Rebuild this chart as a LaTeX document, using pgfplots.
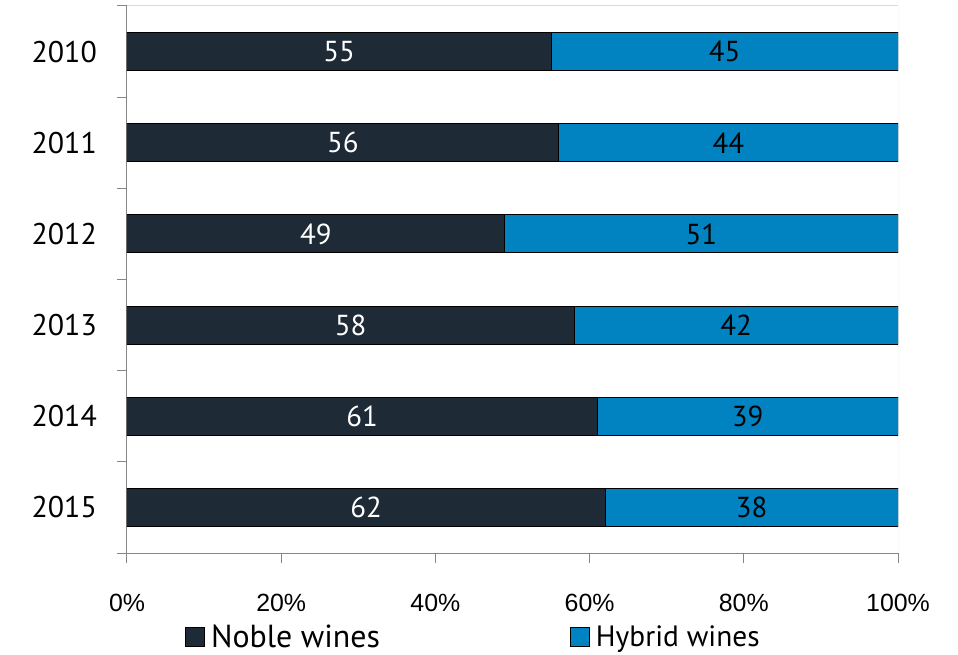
\documentclass[border=0pt]{standalone}
\usepackage{pgfplots}
\pgfplotsset{compat=1.18}
\usepackage{fontspec}
\setmainfont{PT Sans}
\newfontfamily\arialfont{Liberation Sans}
\definecolor{noble}{HTML}{1F2A37}
\definecolor{hybrid}{HTML}{0083C0}
\definecolor{axgray}{HTML}{868686}
\definecolor{framegray}{HTML}{D9D9D9}
\pgfplotsset{sqlegend/.style={legend image code/.code={\draw[##1,draw=black,line width=1bp] (0bp,-9.5bp) rectangle (19bp,9.5bp);}}}
\begin{document}
\begin{tikzpicture}
\path[use as bounding box] (-127bp,-102bp) rectangle (831bp,553bp);
\begin{axis}[
  at={(0,0)}, anchor=south west,
  scale only axis, width=771bp, height=547bp,
  xbar stacked, bar width=38bp,
  xmin=0, xmax=100,
  ymin=-0.5, ymax=5.5,
  ytick={0,...,5}, yticklabels={2015,2014,2013,2012,2011,2010},
  minor ytick={-0.5,0.5,...,5.5},
  major tick length=10bp, minor tick length=10bp,
  tick align=outside,
  ytick style={draw=none},
  minor y tick style={draw=axgray, line width=1bp},
  xtick={0,20,...,100},
  xticklabels={0\%,20\%,40\%,60\%,80\%,100\%},
  xtick style={draw=axgray, line width=1bp},
  axis x line*=bottom, axis y line*=left,
  axis line style={axgray, line width=1bp},
  yticklabel style={font=\fontsize{30}{30}\selectfont, inner sep=0pt, xshift=-20bp},
  xticklabel style={font=\arialfont\fontsize{25}{25}\selectfont, inner sep=0pt, yshift=-31bp},
  legend style={at={(axis description cs:0.0713,-0.153)}, anchor=west, draw=none, fill=none,
    legend columns=2,
    nodes={inner sep=0pt, outer sep=0pt},
    /tikz/every even column/.append style={column sep=190bp},
    /tikz/every odd column/.append style={column sep=6bp}},
  legend cell align=left,
]
\addplot[fill=noble, draw=black, line width=1bp, sqlegend,
  point meta=explicit symbolic,
  nodes near coords={\pgfplotspointmeta},
  every node near coord/.append style={white, anchor=center, font=\fontsize{29}{29}\selectfont}]
  coordinates {(55,5)[55] (56,4)[56] (49,3)[49] (58,2)[58] (61,1)[61] (62,0)[62]};
\addplot[fill=hybrid, draw=black, line width=1bp, sqlegend,
  point meta=explicit symbolic,
  nodes near coords={\pgfplotspointmeta},
  every node near coord/.append style={black, anchor=center, font=\fontsize{29}{29}\selectfont}]
  coordinates {(45,5)[45] (44,4)[44] (51,3)[51] (42,2)[42] (39,1)[39] (38,0)[38]};
\addlegendentry{\fontsize{32}{32}\selectfont Noble wines}
\addlegendentry{\fontsize{29.5}{29.5}\selectfont Hybrid wines}
\draw[framegray, line width=1bp] (rel axis cs:0,1) -- (rel axis cs:1,1) -- (rel axis cs:1,0);
\end{axis}
\end{tikzpicture}
\end{document}
